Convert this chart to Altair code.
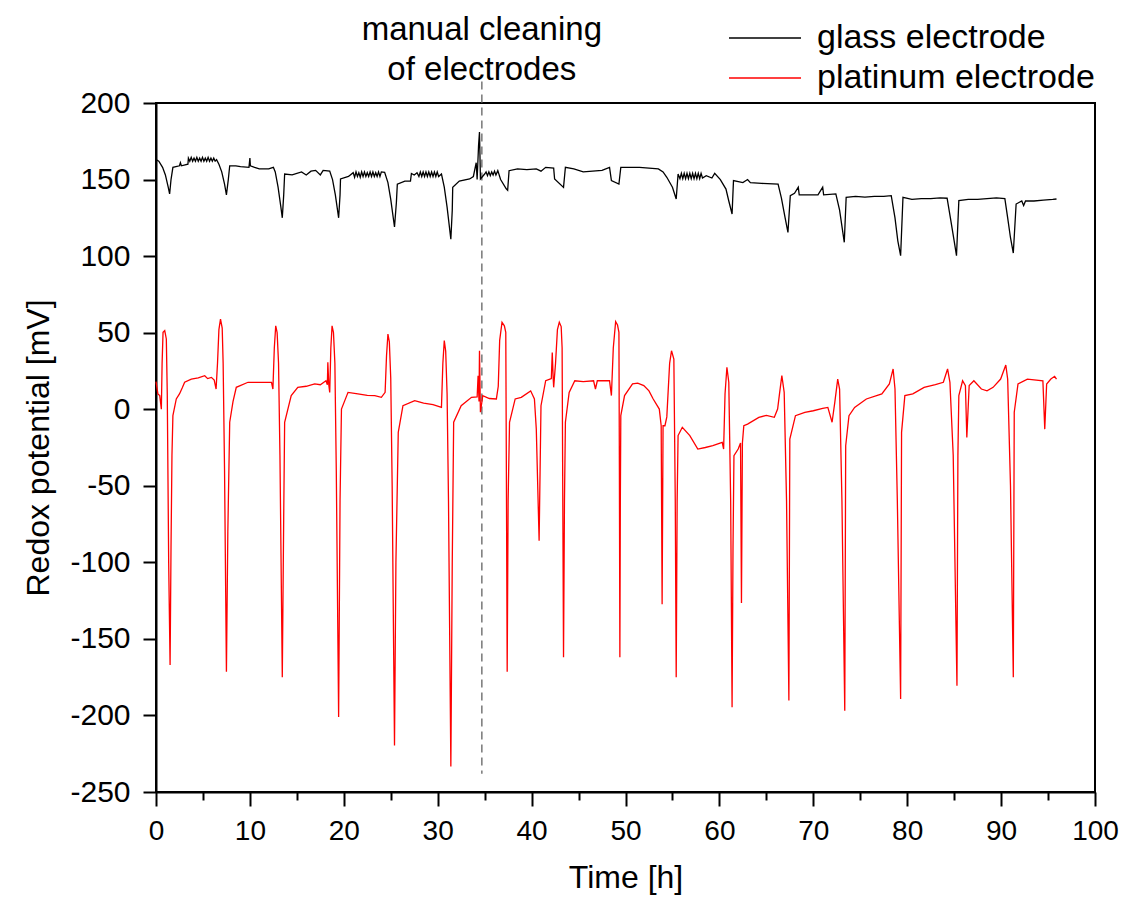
import altair as alt
import pandas as pd

# ---- data ----
glass_t = [0.0, 0.3, 0.7, 1.0, 1.3, 1.45, 1.6, 1.8, 2.5, 2.6, 2.7, 3.4,
           3.45, 3.6, 3.75, 3.9, 4.05, 4.2, 4.35, 4.5, 4.65, 4.8, 4.95, 5.1, 5.25, 5.4, 5.55, 5.7, 5.85, 6.0, 6.15, 6.3, 6.45,
           6.7, 7.0, 7.3, 7.5, 7.7, 7.85, 8.5, 9.0, 9.9, 10.0, 10.05, 10.5, 11.0, 12.0, 12.5, 12.7, 13.0,
           13.3, 13.45, 13.6, 13.7, 14.5, 15.5, 16.0, 16.5, 17.0, 17.5, 17.8, 18.5, 18.8, 19.1, 19.45, 19.6, 19.65, 20.5,
           21.0, 21.15, 21.3, 21.45, 21.6, 21.75, 21.9, 22.05, 22.2, 22.35, 22.5, 22.65, 22.8, 22.95, 23.1, 23.25, 23.4, 23.55, 23.7, 23.85, 24.0, 24.35,
           24.7, 25.0, 25.4, 25.6, 25.7, 26.5, 27.1,
           27.2, 27.5, 27.8, 28.0, 28.15, 28.3, 28.45, 28.6, 28.75, 28.9, 29.05, 29.2, 29.35, 29.5, 29.65, 29.8, 29.95, 30.1, 30.4,
           30.7, 31.0, 31.4, 31.55, 31.6, 32.3, 33.4, 33.8, 34.1, 34.2, 34.35, 34.45, 34.55,
           35.0, 35.15, 35.3, 35.45, 35.6, 35.75, 35.9, 36.05, 36.2, 36.4, 36.7, 37.3, 37.45,
           37.6, 38.5, 39.5, 40.5, 41.0, 41.5, 42.35, 42.45, 43.4, 43.6, 44.5, 45.5, 46.5, 47.5, 48.3, 48.5, 49.3, 49.5, 50.5, 51.5,
           52.5, 53.5, 54.0, 54.4, 55.0, 55.4,
           55.6, 55.8, 55.95, 56.1, 56.25, 56.4, 56.55, 56.7, 56.85, 57.0, 57.15, 57.3, 57.45, 57.6, 57.75, 57.9, 58.05, 58.2, 58.6, 59.2, 59.5, 60.1, 60.7,
           61.0, 61.35, 61.5, 62.5, 63.0, 63.3, 64.5, 66.25, 66.6, 67.0, 67.3, 67.55, 68.0, 68.4, 68.5, 69.5, 70.5, 71.0, 71.1, 72.4,
           72.8, 73.3, 73.5, 74.5, 75.5, 76.5, 77.5, 78.3, 78.7, 79.0, 79.3, 79.55, 80.5, 81.5, 82.5, 83.5, 84.25, 84.6, 85.0, 85.25,
           85.5, 86.5, 87.5, 88.5, 89.5, 90.4, 90.7, 91.0, 91.3, 91.6, 92.2, 92.4, 92.6, 93.5, 94.5, 95.5, 95.9]
glass_v = [163, 162, 158, 153, 145, 140.6, 150, 158, 159, 161, 159, 160,
           164, 162, 164.5, 162, 164, 162, 164.5, 162, 164, 162, 164.5, 162, 164, 162, 164.5, 162, 164, 162, 164, 162, 163,
           160, 155, 147, 140, 150, 159, 159, 158.5, 158, 164, 159, 158, 157, 157, 158, 155, 145,
           132, 125, 140, 153.6, 153, 155, 153, 155.5, 156, 153, 156, 155.5, 150, 140, 125, 140, 150.4, 152,
           154.5, 151.5, 155, 152, 154.5, 151.5, 155, 152, 155, 152, 154.5, 152, 155, 152, 155, 152, 154.5, 152, 155, 152, 155, 154.7,
           148, 137, 119, 135, 147, 149, 149,
           154, 153, 154.5, 152, 155, 152, 155, 152, 155, 152, 155, 152, 155, 152, 155, 152, 155, 152, 153.6,
           145, 132, 111, 130, 145, 149, 150.4, 152, 161, 150, 172, 181, 150.4,
           153.6, 155, 152.5, 155, 152.5, 155, 153, 155.5, 153, 155.8, 150, 144, 143,
           155.8, 157, 156.5, 157, 155.5, 158, 157.5, 150.4, 144.9, 158, 157, 155, 155.5, 156, 158, 149.3, 147, 158, 158, 158,
           157.5, 157, 155, 151.5, 145, 137.3,
           153.6, 150.5, 154, 150.5, 154, 150.5, 154, 150.5, 154, 150.5, 154, 150.5, 154, 150.5, 154, 150.5, 154, 151, 152.5, 151, 154, 150, 143.8,
           136, 127.5, 149.3, 148, 150, 148, 147.5, 147, 138, 125, 115.5, 139.5, 141, 145, 140, 140, 140, 145, 140, 140.6,
           130, 109, 138.4, 139, 138.5, 139, 139, 139.5, 125, 110, 100.3, 138.4, 137, 137.5, 137.5, 138, 137.8, 125, 110, 100.3,
           136.2, 137, 137, 137.5, 138, 137.5, 125, 112, 102, 134, 136, 133, 136, 136, 136.5, 137, 137.3]

plat_t = [0.0, 0.2, 0.4, 0.57, 0.65, 0.75, 0.93, 1.1, 1.2, 1.35, 1.5, 1.6, 1.7, 1.8, 2.16, 2.5, 2.8, 3.05, 3.76, 4.5,
          5.19, 5.5, 5.9, 6.2, 6.4, 6.55, 6.7, 6.87, 7.05, 7.15, 7.3, 7.5, 7.65, 7.85, 8.2, 8.55, 9.8, 11.0, 12.3, 12.45,
          12.6, 12.75, 12.9, 13.05, 13.2, 13.45, 13.6, 13.7, 14.4, 15.1, 16.0, 16.9, 17.5, 18.1, 18.25, 18.3, 18.4, 18.5, 18.62, 18.75,
          18.9, 19.05, 19.2, 19.45, 19.6, 19.75, 20.45, 21.5, 22.5, 23.3, 24.0, 24.4, 24.55, 24.7, 24.85, 25.0, 25.15, 25.4, 25.55, 25.8,
          26.3, 27.55, 28.5, 29.5, 30.4, 30.55, 30.7, 30.85, 31.0, 31.15, 31.4, 31.55, 31.7, 32.5, 33.6, 34.2, 34.3, 34.4, 34.45, 34.55,
          34.8, 35.5, 36.25, 36.45, 36.6, 36.85, 37.1, 37.25, 37.32, 37.4, 37.5, 37.65, 38.25, 38.9, 39.9, 40.3, 40.5, 40.8, 41.0, 41.5,
          41.95, 42.1, 42.2, 42.3, 42.35, 42.55, 42.75, 42.95, 43.15, 43.25, 43.3, 43.4, 43.5, 43.6, 44.0, 44.6, 45.5, 46.6, 46.8, 47.0,
          48.3, 48.5, 48.7, 48.95, 49.15, 49.3, 49.35, 49.4, 49.45, 49.5, 49.9, 50.75, 51.3, 51.95, 52.5, 52.95, 53.6, 53.8, 53.9, 54.0,
          54.2, 54.4, 54.7, 54.9, 55.15, 55.3, 55.4, 55.5, 55.6, 56.05, 56.85, 57.7, 58.5, 59.3, 60.3, 60.45, 60.6, 60.8, 61.0, 61.2,
          61.35, 61.45, 61.55, 62.0, 62.25, 62.35, 62.45, 62.6, 63.0, 64.2, 65.0, 65.85, 66.2, 66.4, 66.65, 66.9, 67.15, 67.4, 67.5, 68.1,
          69.1, 70.0, 71.0, 71.55, 72.0, 72.3, 72.6, 72.8, 73.05, 73.35, 73.45, 73.8, 74.4, 75.65, 77.3, 78.1, 78.5, 78.7, 78.95, 79.3,
          79.4, 79.75, 80.6, 81.8, 83.0, 83.85, 84.3, 84.55, 84.9, 85.3, 85.4, 85.5, 85.9, 86.2, 86.35, 86.6, 87.1, 87.9, 88.5, 89.15,
          89.95, 90.5, 90.7, 91.0, 91.3, 91.4, 91.8, 92.8, 94.45, 94.65, 94.85, 95.3, 95.7, 95.9]
plat_v = [18, 10, 8.9, 0, 30, 50.2, 51.3, 45.9, 10, -100, -167, -90, -30, -4.2, 6.7, 10, 14, 17.6, 19.7, 20.5,
          21.9, 20, 20.8, 19, 13.2, 30, 52, 58.9, 53, 30, -40, -171.4, -80, -8.5, 5, 14.3, 17.6, 17.6, 17.6, 13.2,
          40, 54.5, 50, 30, -30, -175, -70, -8.5, 8.9, 14.3, 15, 16.5, 16, 18.6, 16, 30.6, 16, 11.0, 40, 54.5,
          50, 30, -40, -201, -60, 0.1, 11, 10, 9, 8.9, 7.8, 11, 35, 49.1, 44, 20, -50, -219.7, -100, -15.1,
          2.3, 5.6, 4, 3, 1.2, 30, 44.8, 38, 10, -60, -233.3, -100, -8.5, 2.3, 7.8, 8, 21.9, 5, 38.2, -2,
          8.9, 7, 6.7, 15, 45, 56.8, 54.5, 50.2, -50, -171.4, -60, -8.5, 6.7, 7.8, 12, 6.7, -13, -85.9, 2.3, 18.6,
          19.7, 20, 37.1, 20, 14.3, 30, 52, 56.8, 54, 40, -30, -162, -60, -8.5, 11, 18.6, 18, 18.6, 13.2, 18.6,
          18.6, 8.9, 40, 57.2, 55, 50.2, -40, -162, -60, -4.2, 8.9, 16.5, 17, 15.4, 12, 6.7, 0.1, -10.8, -127.3, -10.8,
          -10.8, -5, 30, 38.2, 32.8, -60, -175.1, -60, -17.2, -11.8, -17.2, -26, -25, -23.8, -21.6, -26, 10, 27.4, 17.6, -60,
          -194.6, -90, -30.4, -26, -22, -126.6, -22, -10.8, -9.7, -5.3, -4, -5.3, 0.1, 10, 21.9, 11, -60, -190.3, -19.5, -4.2,
          -2, -1, 0.5, 1.2, -8.5, 5, 19.7, 13.2, -60, -196.9, -23.8, -4.2, 1.2, 6.7, 10, 16.5, 26.3, 13.2, -60, -189.3,
          -15.1, 8.9, 10, 14.3, 16, 17.6, 26.3, 17.6, -30, -180.6, -30, 8.9, 18.6, 15.4, -18.4, 15.4, 18.6, 13.2, 12, 14.3,
          19.7, 28.9, 19.7, -50, -175.1, -2, 16.5, 19.7, 18.6, -13, 16.5, 19.7, 21.5, 19.7]

series_names = ["glass electrode", "platinum electrode"]
series_colors = ["#000000", "#ff0000"]

cleaning_time = [34.7]
cleaning_top = [214]
cleaning_bottom = [-238]
cleaning_text = ["manual cleaning\nof electrodes"]

x_ticks = list(range(0, 101, 5))
y_ticks = list(range(-250, 201, 25))

# ---- tables ----
df = pd.concat([
    pd.DataFrame({"t": glass_t, "v": glass_v, "series": series_names[0], "i": range(len(glass_t))}),
    pd.DataFrame({"t": plat_t, "v": plat_v, "series": series_names[1], "i": range(len(plat_t))}),
], ignore_index=True)
clean_df = pd.DataFrame({"t": cleaning_time, "top": cleaning_top, "bottom": cleaning_bottom, "label": cleaning_text})

FONT = "Liberation Sans"

x_enc = alt.X("t:Q", scale=alt.Scale(domain=[0, 100], nice=False),
              axis=alt.Axis(values=x_ticks, title="Time [h]",
                            labelExpr="datum.value % 10 === 0 ? '' + datum.value : ''",
                            labelFontSize=28,
                            tickSize={"condition": {"test": "datum.value % 10 === 0", "value": 14}, "value": 8},
                            labelPadding=11, titlePadding=17))
y_enc = alt.Y("v:Q", scale=alt.Scale(domain=[-250, 200], nice=False),
              axis=alt.Axis(values=y_ticks, title="Redox potential [mV]",
                            labelExpr="datum.value % 50 === 0 ? '' + datum.value : ''",
                            tickSize={"condition": {"test": "datum.value % 50 === 0", "value": 13}, "value": 7},
                            labelPadding=13, titlePadding=14))

rule = alt.Chart(clean_df).mark_rule(color="#808080", strokeDash=[8, 5], strokeWidth=1.6).encode(
    x=alt.X("t:Q"), y=alt.Y("top:Q"), y2="bottom:Q")

lines = alt.Chart(df).mark_line(strokeWidth=1.3).encode(
    x=x_enc, y=y_enc,
    color=alt.Color("series:N", scale=alt.Scale(domain=series_names, range=series_colors),
                    legend=alt.Legend(title=None, orient="none", legendX=572, legendY=-85,
                                      symbolType="stroke", symbolSize=5184, symbolStrokeWidth=1.5,
                                      labelFontSize=34, labelFont=FONT, labelLimit=600, labelOffset=15,
                                      clipHeight=40, rowPadding=0, padding=0)),
    order="i:Q",
)

annot = alt.Chart(clean_df).mark_text(align="center", baseline="alphabetic", fontSize=33, font=FONT,
                                      lineBreak="\n", lineHeight=40, color="black").encode(
    x=alt.X("t:Q"), y=alt.value(-63), text="label:N")

chart = alt.layer(rule, lines, annot).properties(
    width=939, height=689,
    autosize=alt.AutoSizeParams(type="none"),
    padding={"left": 148, "top": 95, "right": 26, "bottom": 109},
).configure_view(stroke="black", strokeWidth=2).configure_axis(
    domainColor="black", domainWidth=2, tickColor="black", tickWidth=2, grid=False,
    labelFont=FONT, labelFontSize=30, labelColor="black",
    titleFont=FONT, titleFontSize=32, titleFontWeight="normal", titleColor="black",
    labelFlush=False, labelOverlap=False,
)

chart.save("out.html", embed_options={"renderer": "svg", "actions": False})
